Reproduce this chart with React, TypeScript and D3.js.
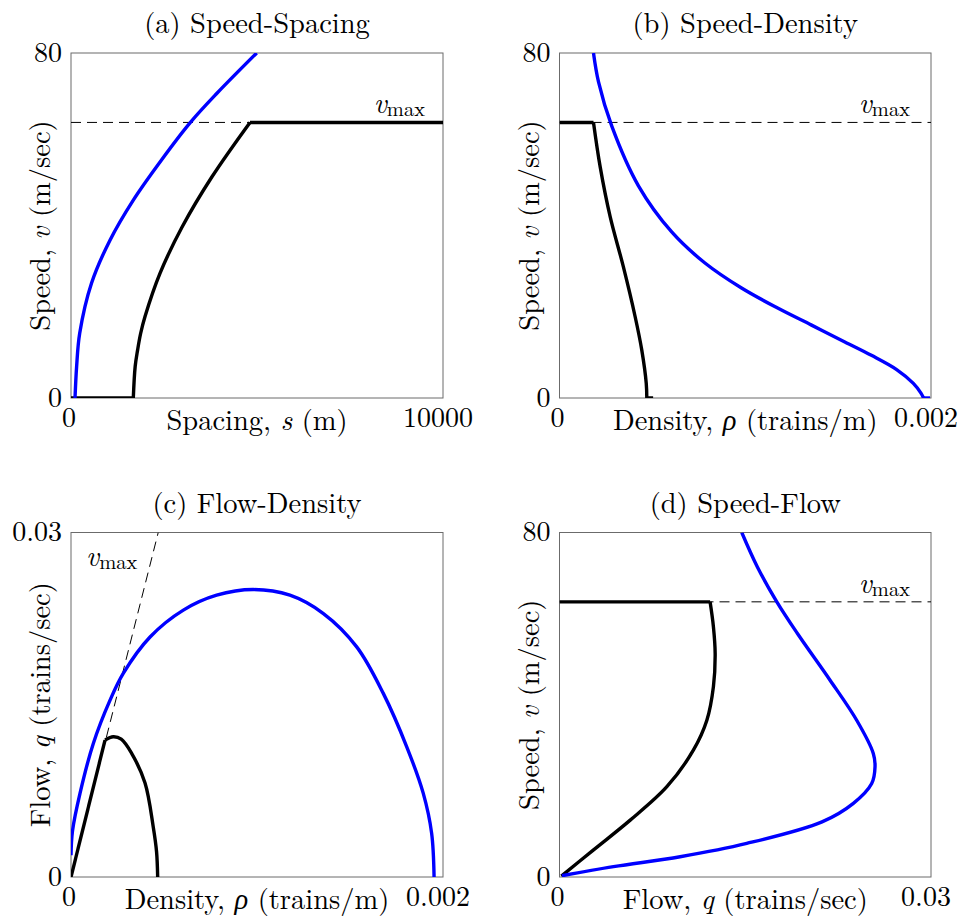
import React from "react";
import * as d3 from "d3";

// values
const VMAX = 63.9;

const spacingTicks = [0, 10000];
const speedTicks = [0, 80];
const densityTicks = [0, 0.002];
const flowTicks = [0, 0.03];
const spacingTickLabels = ["0", "10000"];
const speedTickLabels = ["0", "80"];
const densityTickLabels = ["0", "0.002"];
const flowTickLabels = ["0", "0.03"];

// (a) speed vs spacing
const blackSpacing: [number, number][] = [
  [0, 0], [1675, 0], [1725, 7.3], [1790, 11.1], [1870, 14.9], [1990, 18.9],
  [2392, 28.9], [2990, 39.7], [3790, 51.3], [4812, VMAX], [10000, VMAX],
];
const blueSpacing: [number, number][] = [
  [108, 0], [151, 7.3], [234, 15], [551, 26.6], [1048, 36.6],
  [1675, 45.9], [2433, 55.2], [3199, 63.8], [3917, 70.6], [4992, 80],
];

// (b) speed vs density
const blackDensity: [number, number][] = [
  [0, VMAX], [0.000183, VMAX], [0.000219, 53.6], [0.000273, 42.0], [0.000344, 30.4],
  [0.000407, 18.9], [0.000443, 11.1], [0.000467, 3.4], [0.00047, 0], [0.000504, 0],
];
const blueDensity: [number, number][] = [
  [0.000183, 80], [0.00021, 73.3], [0.000281, 63.1], [0.000425, 49.2], [0.000604, 38.5],
  [0.000783, 31.3], [0.00098, 25.5], [0.001177, 20.8], [0.001357, 16.9], [0.001536, 13.0],
  [0.001679, 9.9], [0.001815, 6.6], [0.001905, 3.4], [0.001945, 1.2], [0.00196, 0],
  [0.001995, 0],
];

// (c) flow vs density
const blackFlow: [number, number][] = [
  [0, 0], [0.000183, 0.01192], [0.000227, 0.01221], [0.00027, 0.012], [0.000326, 0.01077],
  [0.000398, 0.00818], [0.000442, 0.00438], [0.00046, 0.0022], [0.000466, 0],
];
const blueFlow: [number, number][] = [
  [0, 0.0019], [0.000008, 0.004], [0.0000484, 0.00728], [0.00012, 0.01163], [0.00021, 0.0154],
  [0.000281, 0.01773], [0.000425, 0.0209], [0.000604, 0.02324], [0.000783, 0.02454],
  [0.00098, 0.02503], [0.001177, 0.02454], [0.001357, 0.02294], [0.001536, 0.02004],
  [0.001679, 0.01599], [0.001805, 0.01134], [0.001894, 0.00728], [0.001939, 0.0038],
  [0.001952, 0],
];
const vmaxFlowLine: [number, number][] = [[0, 0], [0.000469, 0.03]];

// (d) speed vs flow
const blackSpeedFlow: [number, number][] = [
  [0, VMAX], [0.01216, VMAX], [0.01243, 58.1], [0.01257, 51.9], [0.01243, 44.2],
  [0.0119, 36.4], [0.01082, 29.5], [0.00867, 20.96], [0.00571, 13.2], [0.00275, 6.3],
  [0.00015, 0.2],
];
const blueSpeedFlow: [number, number][] = [
  [0.01472, 80], [0.01598, 72], [0.01755, 63.9], [0.0192, 56.6], [0.02185, 45.7],
  [0.024, 36.4], [0.02534, 28.7], [0.02548, 25.6], [0.02521, 21.7], [0.02373, 17.1],
  [0.0212, 12.8], [0.01512, 7.8], [0.00974, 4.7], [0.00436, 2.4], [0.0002, 0.3],
];

const FONT = "Latin Modern Roman";
const GREEK = "Liberation Serif";

type Pt = [number, number];

// split a series into pieces at the given point indexes so corners stay sharp
const splitAt = (pts: Pt[], corners: number[]) => {
  const cuts = [0, ...corners, pts.length - 1];
  const pieces: Pt[][] = [];
  for (let i = 0; i < cuts.length - 1; i++) pieces.push(pts.slice(cuts[i], cuts[i + 1] + 1));
  return pieces;
};

const Panel = ({ id, box, xTicks, yTicks, xTickLabels, yTickLabels, title, xLabel, yLabel,
  black, blackCorners, blue, blueCorners, dashed, vmaxLabel }: any) => {
  const x = d3.scaleLinear().domain([xTicks[0], xTicks[1]]).range([box.x0, box.x1]);
  const y = d3.scaleLinear().domain([yTicks[0], yTicks[1]]).range([box.y1, box.y0]);
  const line = d3.line<Pt>().x((d) => x(d[0])).y((d) => y(d[1])).curve(d3.curveCatmullRom.alpha(0.5));
  const straight = d3.line<Pt>().x((d) => x(d[0])).y((d) => y(d[1]));
  const cx = (box.x0 + box.x1) / 2;
  const cy = (box.y0 + box.y1) / 2;

  return (
    <g fill="#000">
      <defs>
        <clipPath id={id}>
          <rect x={box.x0} y={box.y0} width={box.x1 - box.x0} height={box.y1 - box.y0} />
        </clipPath>
      </defs>
      <rect x={box.x0} y={box.y0} width={box.x1 - box.x0} height={box.y1 - box.y0}
        fill="none" stroke="#6b6b6b" strokeWidth={1} />
      <g clipPath={`url(#${id})`} fill="none">
        <path d={straight(dashed) || ""} stroke="#000" strokeWidth={1} strokeDasharray="10,6" />
        {splitAt(black, blackCorners).map((p, i) => (
          <path key={"k" + i} d={line(p) || ""} stroke="#000" strokeWidth={3.4} strokeLinejoin="round" />
        ))}
        {splitAt(blue, blueCorners).map((p, i) => (
          <path key={"b" + i} d={line(p) || ""} stroke="#0000ff" strokeWidth={3.4} strokeLinejoin="round" />
        ))}
      </g>
      {xTicks.map((t: number, i: number) => (
        <text key={"xt" + i} x={x(t)} dx={i === 0 ? -2 : -5} y={box.y1 + 29} fontSize={28}
          fontFamily={FONT} textAnchor="middle">
          {xTickLabels[i]}
        </text>
      ))}
      {yTicks.map((t: number, i: number) => (
        <text key={"yt" + i} x={box.x0 - 9} y={y(t) + 8.5} fontSize={28} fontFamily={FONT} textAnchor="end">
          {yTickLabels[i]}
        </text>
      ))}
      <text x={cx} y={box.y0 - 20} fontSize={28.5} fontFamily={FONT} textAnchor="middle">{title}</text>
      <text x={cx} y={box.y1 + 32} fontSize={28.5} fontFamily={FONT} textAnchor="middle">{xLabel}</text>
      <text transform={`translate(${box.x0 - 21},${cy}) rotate(-90)`} fontSize={28.5} fontFamily={FONT}
        textAnchor="middle">{yLabel}</text>
      <text x={vmaxLabel.start ? box.x0 + vmaxLabel.dx : box.x1 + vmaxLabel.dx}
        y={vmaxLabel.start ? box.y0 + vmaxLabel.dy : y(VMAX) + vmaxLabel.dy}
        fontFamily={FONT} textAnchor={vmaxLabel.start ? "start" : "end"}>
        <tspan fontStyle="italic" fontSize={28.5}>v</tspan>
        <tspan fontSize={20.5} dy={3}>max</tspan>
      </text>
    </g>
  );
};

const it = (s: string) => <tspan fontStyle="italic">{s}</tspan>;
const rho = <tspan fontStyle="italic" fontFamily={GREEK}>ρ</tspan>;

export default function App() {
  const left = { x0: 71, x1: 443 };
  const right = { x0: 559.5, x1: 931 };
  const top = { y0: 53, y1: 398 };
  const bottom = { y0: 532.5, y1: 877 };
  return (
    <svg width={962} height={920} style={{ position: "absolute", left: 0, top: 0, background: "#fff" }}>
      <rect width={962} height={920} fill="#fff" />
      <Panel id="pa" box={{ ...left, ...top }} xTicks={spacingTicks} yTicks={speedTicks}
        xTickLabels={spacingTickLabels} yTickLabels={speedTickLabels}
        title="(a) Speed-Spacing"
        xLabel={<>Spacing, {it("s")} (m)</>}
        yLabel={<>Speed, {it("v")} (m/sec)</>}
        black={blackSpacing} blackCorners={[1, blackSpacing.length - 2]}
        blue={blueSpacing} blueCorners={[]}
        dashed={[[0, VMAX], [10000, VMAX]]}
        vmaxLabel={{ dx: -18, dy: -9 }} />
      <Panel id="pb" box={{ ...right, ...top }} xTicks={densityTicks} yTicks={speedTicks}
        xTickLabels={densityTickLabels} yTickLabels={speedTickLabels}
        title="(b) Speed-Density"
        xLabel={<>Density, {rho} (trains/m)</>}
        yLabel={<>Speed, {it("v")} (m/sec)</>}
        black={blackDensity} blackCorners={[1, blackDensity.length - 2]}
        blue={blueDensity} blueCorners={[blueDensity.length - 2]}
        dashed={[[0, VMAX], [0.002, VMAX]]}
        vmaxLabel={{ dx: -21, dy: -9 }} />
      <Panel id="pc" box={{ ...left, ...bottom }} xTicks={densityTicks} yTicks={flowTicks}
        xTickLabels={densityTickLabels} yTickLabels={flowTickLabels}
        title="(c) Flow-Density"
        xLabel={<>Density, {rho} (trains/m)</>}
        yLabel={<>Flow, {it("q")} (trains/sec)</>}
        black={blackFlow} blackCorners={[1]}
        blue={blueFlow} blueCorners={[]}
        dashed={vmaxFlowLine}
        vmaxLabel={{ start: true, dx: 15, dy: 33 }} />
      <Panel id="pd" box={{ ...right, ...bottom }} xTicks={flowTicks} yTicks={speedTicks}
        xTickLabels={flowTickLabels} yTickLabels={speedTickLabels}
        title="(d) Speed-Flow"
        xLabel={<>Flow, {it("q")} (trains/sec)</>}
        yLabel={<>Speed, {it("v")} (m/sec)</>}
        black={blackSpeedFlow} blackCorners={[1]}
        blue={blueSpeedFlow} blueCorners={[]}
        dashed={[[0, VMAX], [0.03, VMAX]]}
        vmaxLabel={{ dx: -21, dy: -9 }} />
    </svg>
  );
}
